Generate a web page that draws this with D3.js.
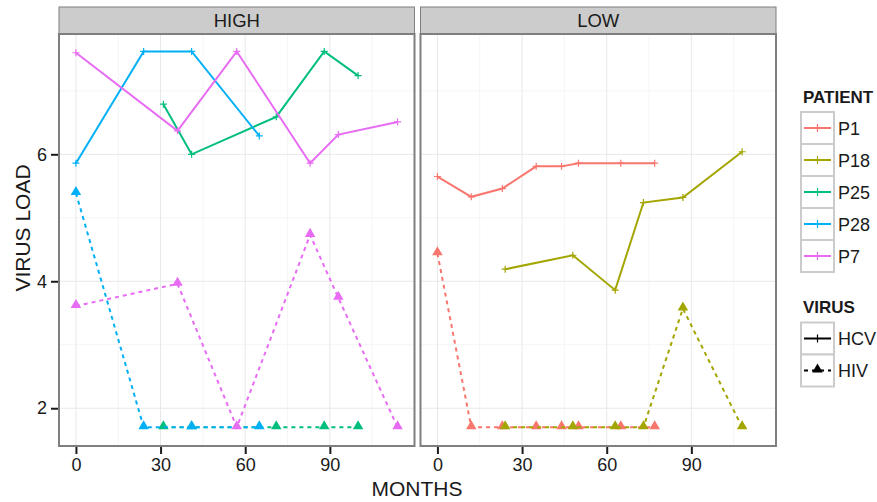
<!DOCTYPE html>
<html>
<head>
<meta charset="utf-8">
<script src="https://cdn.jsdelivr.net/npm/d3@7"></script>
<style>
  body { margin: 0; background: #fff; }
  text { font-family: "Liberation Sans", Arial, sans-serif; fill: #1a1a1a; }
</style>
</head>
<body>
<svg id="chart" width="877" height="502"></svg>
<script>
// values (months / log virus load)
const facets = ["HIGH", "LOW"];
const patients = ["P1", "P18", "P25", "P28", "P7"];
const patientColors = ["#F8766D", "#A3A500", "#00BF7D", "#00B0F6", "#E76BF3"];
const viruses = ["HCV", "HIV"];

const p1Months = [0, 12, 23, 35, 44, 50, 65, 77];
const p1Hcv = [5.65, 5.33, 5.46, 5.81, 5.81, 5.86, 5.86, 5.86];
const p1Hiv = [4.44, 1.7, 1.7, 1.7, 1.7, 1.7, 1.7, 1.7];

const p18Months = [24, 48, 63, 73, 87, 108];
const p18Hcv = [4.19, 4.41, 3.86, 5.24, 5.32, 6.04];
const p18Hiv = [1.7, 1.7, 1.7, 1.7, 3.57, 1.7];

const p25Months = [31, 41, 71, 88, 100];
const p25Hcv = [6.79, 6.0, 6.59, 7.62, 7.24];
const p25Hiv = [1.7, 1.7, 1.7, 1.7, 1.7];

const p28Months = [0, 24, 41, 65];
const p28Hcv = [5.86, 7.62, 7.62, 6.29];
const p28Hiv = [5.39, 1.7, 1.7, 1.7];

const p7Months = [0, 36, 57, 83, 93, 114];
const p7Hcv = [7.6, 6.37, 7.62, 5.86, 6.31, 6.51];
const p7Hiv = [3.61, 3.96, 1.7, 4.73, 3.74, 1.7];

const xTicks = [0, 30, 60, 90];
const xMinor = [15, 45, 75, 105];
const yTicks = [2, 4, 6];
const yMinor = [3, 5, 7];

// build the rows the panels need
const series = [
  {facet: "LOW", patient: "P1", months: p1Months, hcv: p1Hcv, hiv: p1Hiv},
  {facet: "LOW", patient: "P18", months: p18Months, hcv: p18Hcv, hiv: p18Hiv},
  {facet: "HIGH", patient: "P25", months: p25Months, hcv: p25Hcv, hiv: p25Hiv},
  {facet: "HIGH", patient: "P28", months: p28Months, hcv: p28Hcv, hiv: p28Hiv},
  {facet: "HIGH", patient: "P7", months: p7Months, hcv: p7Hcv, hiv: p7Hiv}
];

const svg = d3.select("#chart");
const color = d3.scaleOrdinal().domain(patients).range(patientColors);

// layout (pixels)
const stripTop = 7, stripH = 27;
const panelTop = stripTop + stripH, panelBottom = 446;
const panelW = 355.5;
const panelLeft = {HIGH: 59, LOW: 420.5};

const y = d3.scaleLinear().domain([1.405, 7.895]).range([panelBottom, panelTop]);

const lineGen = (xs) => d3.line().x(d => xs(d[0])).y(d => y(d[1]));
const tri = d3.symbol().type(d3.symbolTriangle).size(48);

function drawPanel(facet) {
  const left = panelLeft[facet];
  const x = d3.scaleLinear().domain([-6, 120]).range([left, left + panelW]);
  const g = svg.append("g");

  // strip
  g.append("rect")
    .attr("x", left).attr("y", stripTop).attr("width", panelW).attr("height", stripH)
    .attr("fill", "#CCCCCC").attr("stroke", "#7F7F7F").attr("stroke-width", 1);
  g.append("text")
    .attr("x", left + panelW / 2).attr("y", stripTop + stripH / 2 + 6.5)
    .attr("text-anchor", "middle").style("font-size", "18.5px")
    .text(facet);

  g.append("rect")
    .attr("x", left).attr("y", panelTop).attr("width", panelW).attr("height", panelBottom - panelTop)
    .attr("fill", "#fff");

  // grid - minor first then major
  g.selectAll(".xminor").data(xMinor).enter().append("line")
    .attr("x1", d => x(d)).attr("x2", d => x(d)).attr("y1", panelTop).attr("y2", panelBottom)
    .attr("stroke", "#F5F5F5").attr("stroke-width", 1);
  g.selectAll(".yminor").data(yMinor).enter().append("line")
    .attr("x1", left).attr("x2", left + panelW).attr("y1", d => y(d)).attr("y2", d => y(d))
    .attr("stroke", "#F5F5F5").attr("stroke-width", 1);
  g.selectAll(".xmajor").data(xTicks).enter().append("line")
    .attr("x1", d => x(d)).attr("x2", d => x(d)).attr("y1", panelTop).attr("y2", panelBottom)
    .attr("stroke", "#E8E8E8").attr("stroke-width", 1);
  g.selectAll(".ymajor").data(yTicks).enter().append("line")
    .attr("x1", left).attr("x2", left + panelW).attr("y1", d => y(d)).attr("y2", d => y(d))
    .attr("stroke", "#E8E8E8").attr("stroke-width", 1);

  const rows = series.filter(s => s.facet === facet);

  rows.forEach(function (s) {
    const hcvPts = s.months.map((m, i) => [m, s.hcv[i]]);
    const hivPts = s.months.map((m, i) => [m, s.hiv[i]]);
    const c = color(s.patient);

    // HIV dashed + triangles
    g.append("path").attr("d", lineGen(x)(hivPts))
      .attr("fill", "none").attr("stroke", c).attr("stroke-width", 2)
      .attr("stroke-dasharray", "4,4");
    g.selectAll(null).data(hivPts).enter().append("path")
      .attr("d", tri)
      .attr("transform", d => "translate(" + x(d[0]) + "," + (y(d[1]) - 1) + ")")
      .attr("fill", c);

    // HCV solid + "+" marks
    g.append("path").attr("d", lineGen(x)(hcvPts))
      .attr("fill", "none").attr("stroke", c).attr("stroke-width", 2);
    g.selectAll(null).data(hcvPts).enter().append("path")
      .attr("d", d => "M" + (x(d[0]) - 3.5) + "," + y(d[1]) + "h7M" + x(d[0]) + "," + (y(d[1]) - 3.5) + "v7")
      .attr("stroke", c).attr("stroke-width", 1.2);
  });

  // border
  g.append("rect")
    .attr("x", left).attr("y", panelTop).attr("width", panelW).attr("height", panelBottom - panelTop)
    .attr("fill", "none").attr("stroke", "#7F7F7F").attr("stroke-width", 2);

  // x axis
  const xAxis = g.append("g").attr("transform", "translate(0," + (panelBottom + 1) + ")")
    .call(d3.axisBottom(x).tickValues(xTicks).tickSize(7).tickPadding(4));
  xAxis.select(".domain").remove();
  xAxis.selectAll(".tick line").attr("stroke", "#1a1a1a").attr("stroke-width", 2);
  xAxis.selectAll(".tick text").style("font-size", "18px").attr("fill", "#1a1a1a")
    .style("font-family", "Liberation Sans, Arial, sans-serif");

  return x;
}

facets.forEach(drawPanel);

// y axis on the left panel only
const yAxis = svg.append("g").attr("transform", "translate(" + (panelLeft.HIGH - 1) + ",0)")
  .call(d3.axisLeft(y).tickValues(yTicks).tickFormat(d3.format("d")).tickSize(7).tickPadding(4));
yAxis.select(".domain").remove();
yAxis.selectAll(".tick line").attr("stroke", "#1a1a1a").attr("stroke-width", 2);
yAxis.selectAll(".tick text").style("font-size", "18px").attr("fill", "#1a1a1a")
  .style("font-family", "Liberation Sans, Arial, sans-serif");

// axis titles
svg.append("text")
  .attr("x", 417).attr("y", 496)
  .attr("text-anchor", "middle").style("font-size", "21px")
  .text("MONTHS");
svg.append("text")
  .attr("transform", "translate(30,228) rotate(-90)")
  .attr("text-anchor", "middle").style("font-size", "21px")
  .text("VIRUS LOAD");

// legends
const keyX = 801, keyW = 33, keyH = 32;

const legP = svg.append("g");
legP.append("text").attr("x", 803).attr("y", 103)
  .style("font-size", "17px").style("font-weight", "bold").text("PATIENT");
patients.forEach(function (p, i) {
  const ky = 112 + i * keyH;
  legP.append("rect").attr("x", keyX).attr("y", ky).attr("width", keyW).attr("height", keyH)
    .attr("fill", "#fff").attr("stroke", "#CCCCCC").attr("stroke-width", 2);
  legP.append("line").attr("x1", keyX + 3).attr("x2", keyX + keyW - 3)
    .attr("y1", ky + keyH / 2).attr("y2", ky + keyH / 2)
    .attr("stroke", color(p)).attr("stroke-width", 2);
  legP.append("line").attr("x1", keyX + keyW / 2).attr("x2", keyX + keyW / 2)
    .attr("y1", ky + keyH / 2 - 4).attr("y2", ky + keyH / 2 + 4)
    .attr("stroke", color(p)).attr("stroke-width", 1.2);
  legP.append("text").attr("x", 838).attr("y", ky + keyH / 2 + 6.5)
    .style("font-size", "18px").text(p);
});

const legV = svg.append("g");
legV.append("text").attr("x", 803).attr("y", 313)
  .style("font-size", "17px").style("font-weight", "bold").text("VIRUS");
viruses.forEach(function (v, i) {
  const ky = 322.5 + i * keyH;
  const cy = ky + keyH / 2;
  legV.append("rect").attr("x", keyX).attr("y", ky).attr("width", keyW).attr("height", keyH)
    .attr("fill", "#fff").attr("stroke", "#CCCCCC").attr("stroke-width", 2);
  const ln = legV.append("line").attr("x1", keyX + 3).attr("x2", keyX + keyW - 3)
    .attr("y1", cy).attr("y2", cy).attr("stroke", "#000").attr("stroke-width", 2);
  if (v === "HIV") {
    ln.attr("stroke-dasharray", "4,4");
    legV.append("path").attr("d", tri)
      .attr("transform", "translate(" + (keyX + keyW / 2) + "," + (cy - 1) + ")")
      .attr("fill", "#000");
  } else {
    legV.append("line").attr("x1", keyX + keyW / 2).attr("x2", keyX + keyW / 2)
      .attr("y1", cy - 4).attr("y2", cy + 4).attr("stroke", "#000").attr("stroke-width", 1.2);
  }
  legV.append("text").attr("x", 838).attr("y", cy + 6.5)
    .style("font-size", "18px").text(v);
});
</script>
</body>
</html>
